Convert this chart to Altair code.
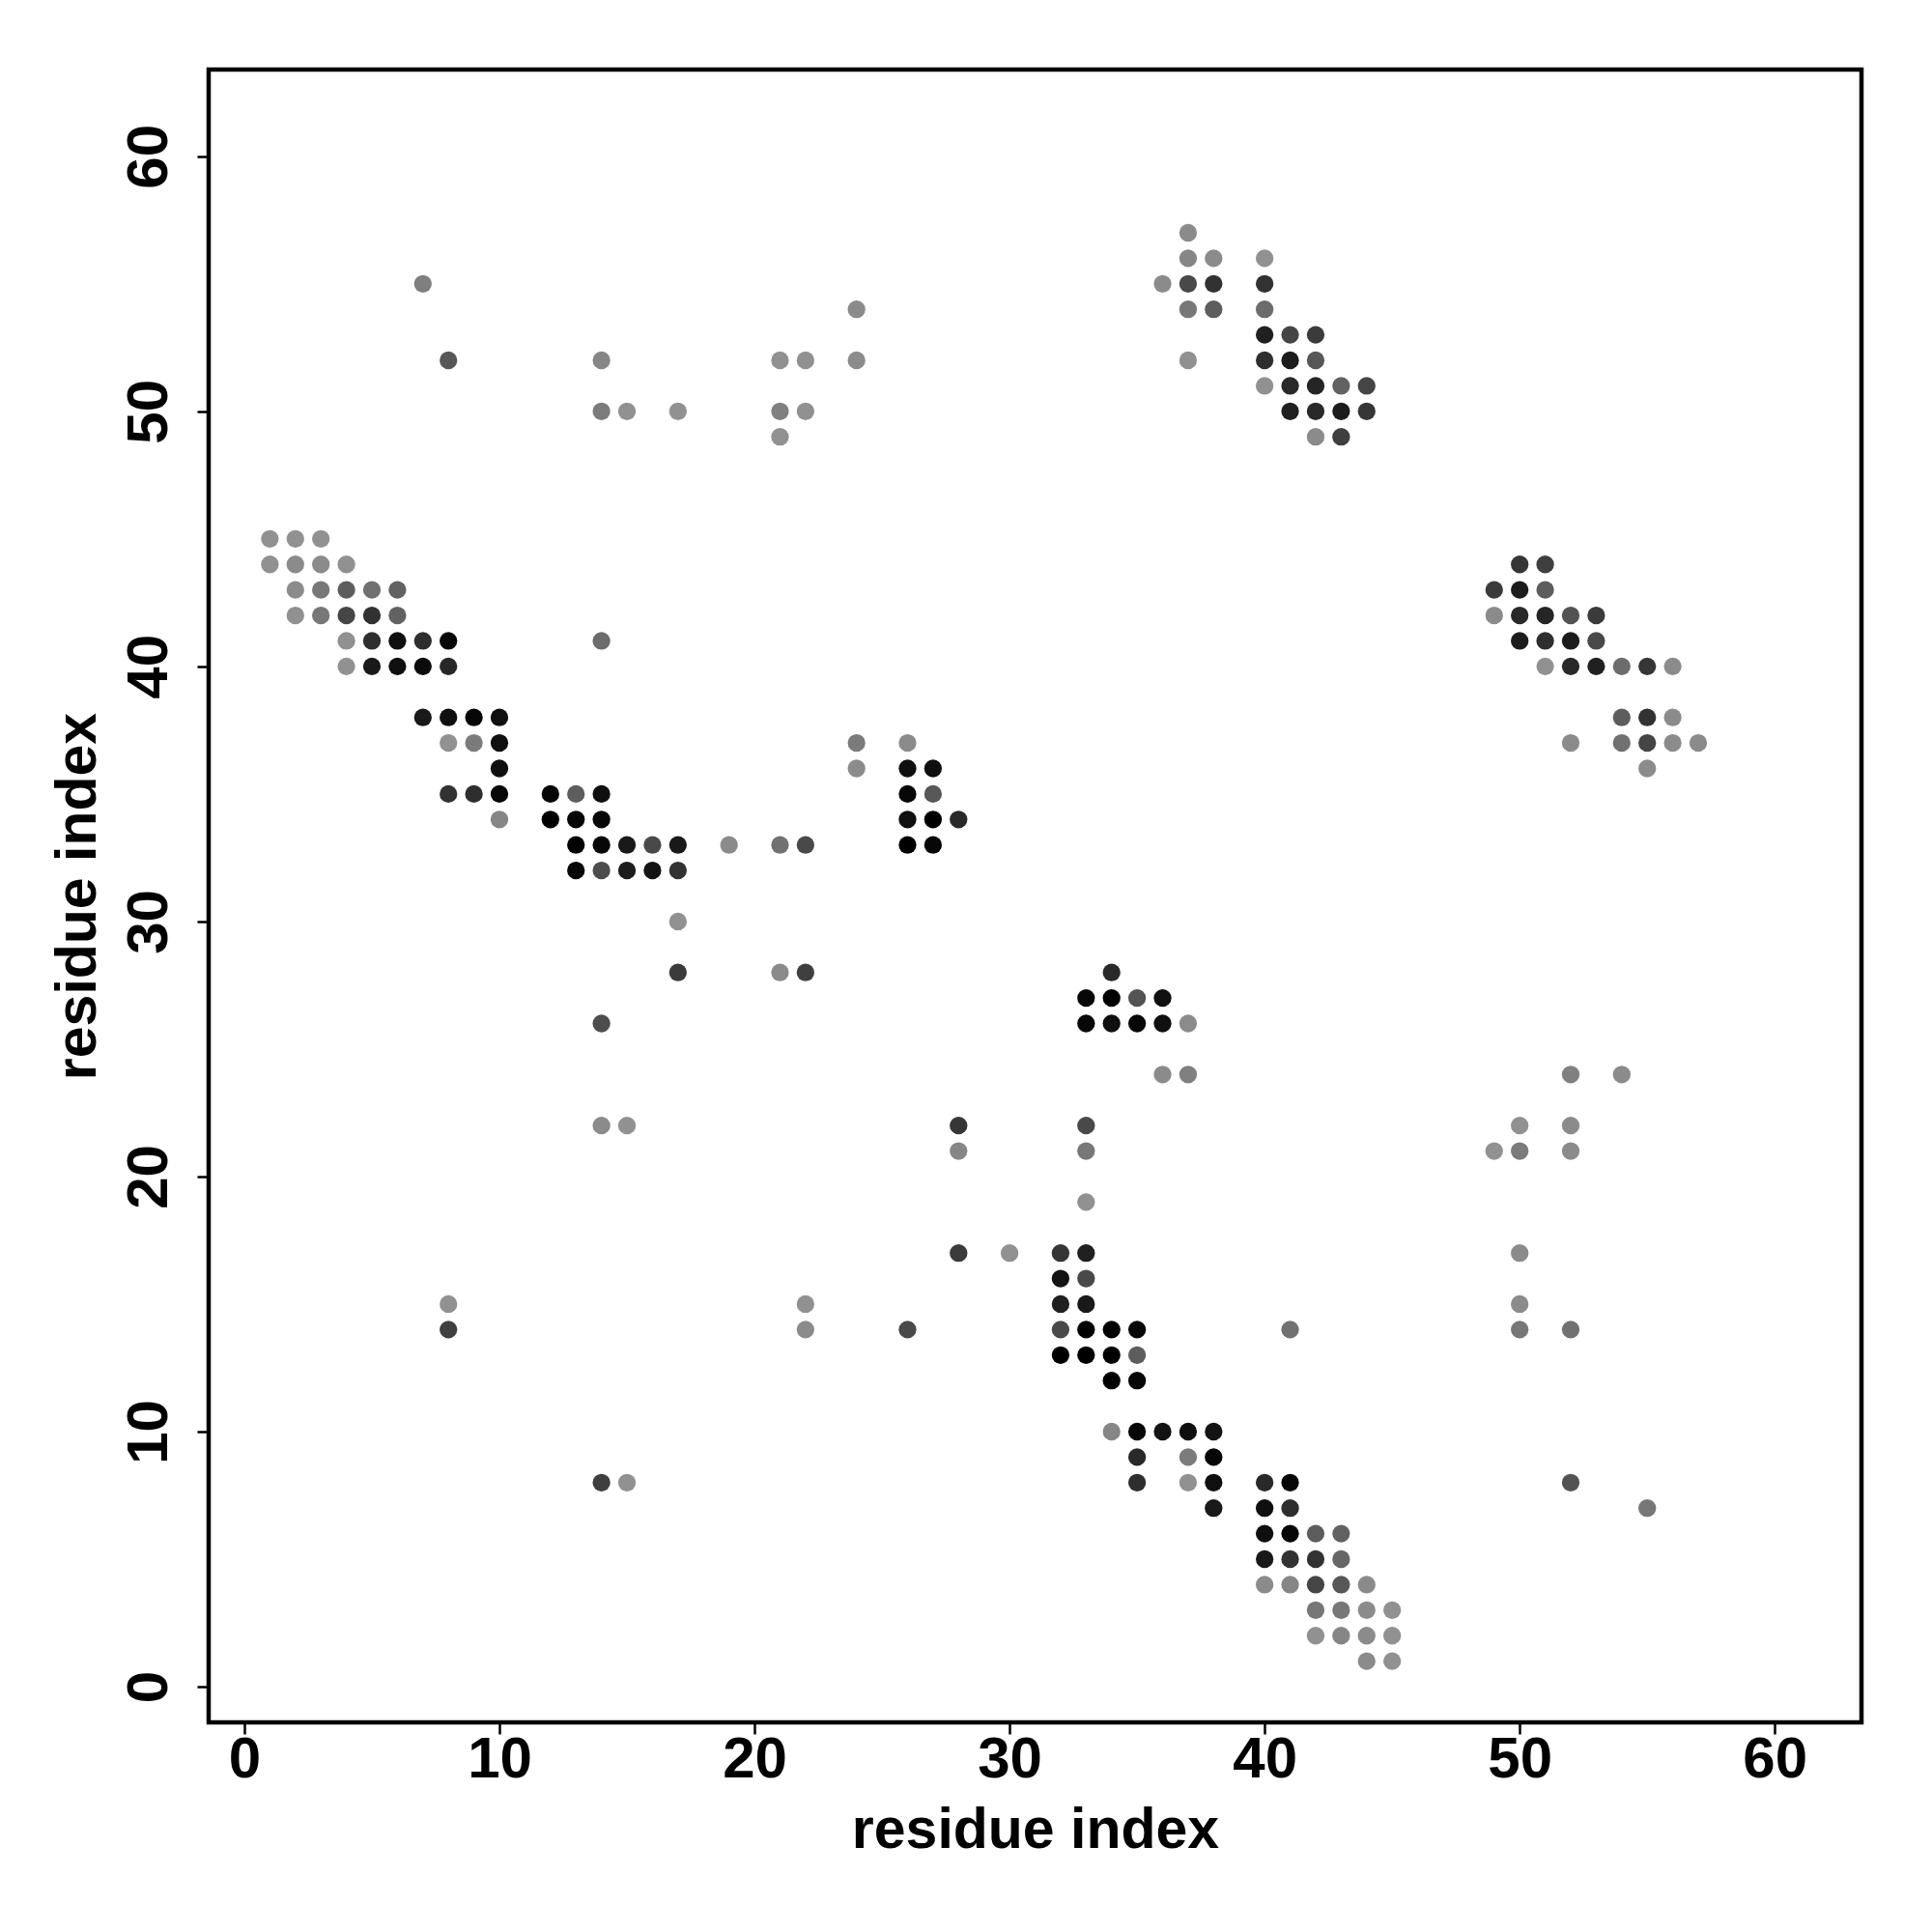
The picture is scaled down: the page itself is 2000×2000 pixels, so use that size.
import altair as alt
import pandas as pd

# contact map: for each row (residue index j) the partner residues i and a contact score
row_y = [57, 56, 55, 54, 53, 52, 51, 50, 49, 45, 44, 43, 42, 41, 40, 38, 37, 36, 35, 34,
         33, 32, 30, 28, 27, 26, 24, 22, 21, 19, 17, 16, 15, 14, 13, 12, 10, 9, 8, 7,
         6, 5, 4, 3, 2, 1]
row_x = [
    [37],
    [37, 38, 40],
    [7, 36, 37, 38, 40],
    [24, 37, 38, 40],
    [40, 41, 42],
    [8, 14, 21, 22, 24, 37, 40, 41, 42],
    [40, 41, 42, 43, 44],
    [14, 15, 17, 21, 22, 41, 42, 43, 44],
    [21, 42, 43],
    [1, 2, 3],
    [1, 2, 3, 4, 50, 51],
    [2, 3, 4, 5, 6, 49, 50, 51],
    [2, 3, 4, 5, 6, 49, 50, 51, 52, 53],
    [4, 5, 6, 7, 8, 14, 50, 51, 52, 53],
    [4, 5, 6, 7, 8, 51, 52, 53, 54, 55, 56],
    [7, 8, 9, 10, 54, 55, 56],
    [8, 9, 10, 24, 26, 52, 54, 55, 56, 57],
    [10, 24, 26, 27, 55],
    [8, 9, 10, 12, 13, 14, 26, 27],
    [10, 12, 13, 14, 26, 27, 28],
    [13, 14, 15, 16, 17, 19, 21, 22, 26, 27],
    [13, 14, 15, 16, 17],
    [17],
    [17, 21, 22, 34],
    [33, 34, 35, 36],
    [14, 33, 34, 35, 36, 37],
    [36, 37, 52, 54],
    [14, 15, 28, 33, 50, 52],
    [28, 33, 49, 50, 52],
    [33],
    [28, 30, 32, 33, 50],
    [32, 33],
    [8, 22, 32, 33, 50],
    [8, 22, 26, 32, 33, 34, 35, 41, 50, 52],
    [32, 33, 34, 35],
    [34, 35],
    [34, 35, 36, 37, 38],
    [35, 37, 38],
    [14, 15, 35, 37, 38, 40, 41, 52],
    [38, 40, 41, 55],
    [40, 41, 42, 43],
    [40, 41, 42, 43],
    [40, 41, 42, 43, 44],
    [42, 43, 44, 45],
    [42, 43, 44, 45],
    [44, 45],
]
row_score = [
    [0.05],
    [0.08, 0.05, 0.01],
    [0.13, 0.05, 0.49, 0.66, 0.66],
    [0.05, 0.18, 0.35, 0.25],
    [0.80, 0.52, 0.59],
    [0.39, 0.08, 0.01, 0.01, 0.05, 0.01, 0.69, 0.83, 0.39],
    [0.01, 0.73, 0.76, 0.32, 0.52],
    [0.15, 0.01, 0.01, 0.12, 0.01, 0.80, 0.73, 0.83, 0.63],
    [0.01, 0.05, 0.56],
    [0.01, 0.01, 0.01],
    [0.01, 0.05, 0.05, 0.01, 0.63, 0.56],
    [0.05, 0.18, 0.35, 0.22, 0.32, 0.59, 0.83, 0.35],
    [0.01, 0.18, 0.52, 0.66, 0.32, 0.05, 0.73, 0.76, 0.42, 0.59],
    [0.01, 0.69, 0.93, 0.69, 0.97, 0.25, 0.83, 0.69, 0.83, 0.49],
    [0.01, 0.86, 0.93, 0.95, 0.74, 0.01, 0.73, 0.80, 0.25, 0.63, 0.05],
    [0.86, 0.93, 0.97, 0.93, 0.35, 0.66, 0.05],
    [0.01, 0.15, 0.93, 0.15, 0.05, 0.05, 0.22, 0.52, 0.05, 0.05],
    [0.93, 0.05, 0.93, 0.93, 0.05],
    [0.66, 0.69, 0.97, 0.97, 0.35, 0.93, 0.97, 0.39],
    [0.08, 1.00, 0.97, 0.97, 0.93, 1.00, 0.73],
    [1.00, 0.97, 0.86, 0.49, 0.86, 0.05, 0.22, 0.49, 1.00, 0.97],
    [0.97, 0.46, 0.83, 0.90, 0.66],
    [0.01],
    [0.59, 0.05, 0.56, 0.73],
    [0.97, 1.00, 0.42, 0.93],
    [0.46, 0.97, 0.93, 0.97, 0.93, 0.05],
    [0.05, 0.12, 0.12, 0.05],
    [0.05, 0.01, 0.63, 0.49, 0.01, 0.05],
    [0.08, 0.18, 0.01, 0.15, 0.05],
    [0.01],
    [0.59, 0.01, 0.63, 0.80, 0.05],
    [0.90, 0.49],
    [0.01, 0.01, 0.80, 0.86, 0.05],
    [0.56, 0.05, 0.49, 0.49, 1.00, 1.00, 0.97, 0.22, 0.18, 0.22],
    [1.00, 1.00, 1.00, 0.35],
    [1.00, 0.97],
    [0.08, 0.97, 0.90, 0.93, 0.90],
    [0.73, 0.15, 0.97],
    [0.56, 0.01, 0.69, 0.01, 0.93, 0.73, 0.97, 0.42],
    [0.86, 0.93, 0.69, 0.18],
    [0.93, 0.97, 0.35, 0.32],
    [0.86, 0.66, 0.66, 0.29],
    [0.05, 0.08, 0.52, 0.39, 0.05],
    [0.18, 0.18, 0.05, 0.01],
    [0.01, 0.08, 0.05, 0.01],
    [0.05, 0.01],
]
tick_values = [0, 10, 20, 30, 40, 50, 60]
axis_title = "residue index"

records = []
for j, xs, ss in zip(row_y, row_x, row_score):
    for i, s in zip(xs, ss):
        records.append({"i": i, "j": j, "score": s})
df = pd.DataFrame(records)

FONT = "Liberation Sans"
W = 1711
H = 1711

common_axis = dict(
    values=tick_values,
    title=axis_title,
    domain=False,
    grid=False,
    ticks=True,
    tickSize=12,
    tickWidth=2.5,
    tickColor="black",
    labelFont=FONT,
    labelFontSize=60,
    labelFontWeight="bold",
    labelColor="black",
    labelFlush=False,
    labelOverlap=False,
    titleFont=FONT,
    titleFontSize=59,
    titleFontWeight="bold",
    titleColor="black",
    titleAlign="center",
    titleBaseline="alphabetic",
)

x_axis = alt.Axis(
    **common_axis,
    labelAlign="center",
    labelBaseline="alphabetic",
    labelPadding=44,
    titleX=W / 2,
    titleY=129,
)
y_axis = alt.Axis(
    **common_axis,
    labelAngle=270,
    labelAlign="center",
    labelBaseline="alphabetic",
    labelPadding=32,
    titleAngle=270,
    titleX=-118,
    titleY=H / 2,
)

chart = (
    alt.Chart(df)
    .mark_circle(size=335, opacity=1)
    .encode(
        x=alt.X("i:Q", scale=alt.Scale(domain=[-1.4, 63.4], nice=False, zero=False), axis=x_axis),
        y=alt.Y("j:Q", scale=alt.Scale(domain=[-1.4, 63.4], nice=False, zero=False), axis=y_axis),
        color=alt.Color(
            "score:Q",
            scale=alt.Scale(domain=[0, 1], range=["#939393", "#000000"]),
            legend=None,
        ),
    )
    .properties(
        width=W,
        height=H,
        autosize=alt.AutoSizeParams(type="none"),
        padding={"left": 208, "top": 64, "right": 60, "bottom": 200},
        background="white",
    )
    .configure_view(stroke="black", strokeWidth=4.5)
)

chart.save("out.html", embed_options={"renderer": "svg", "actions": False})
